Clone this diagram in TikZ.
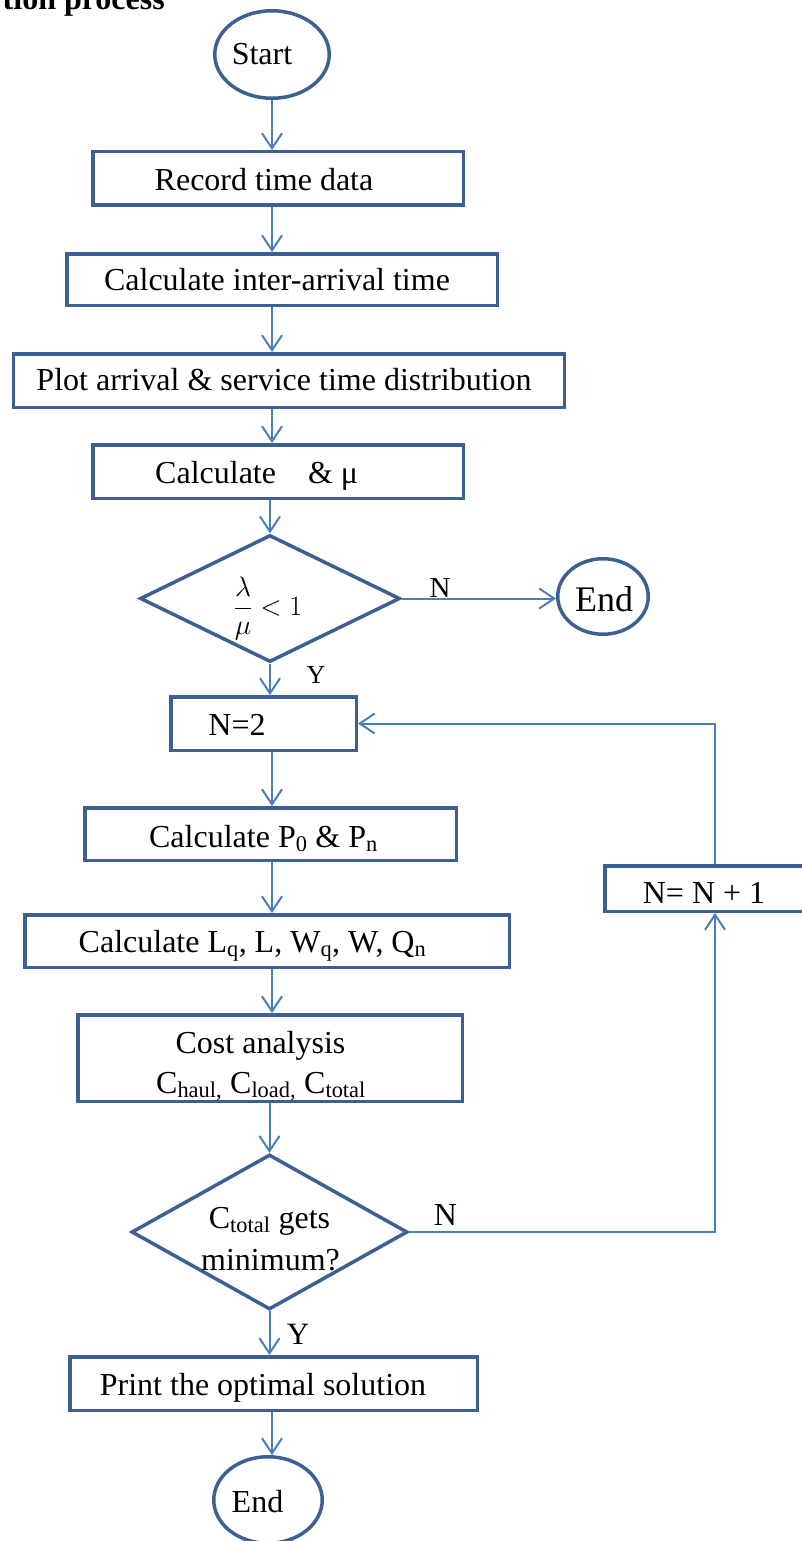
\RequirePackage{fix-cm}
\documentclass[tikz,border=0pt]{standalone}
\usepackage{fontspec}
\setmainfont{Liberation Serif}
\usetikzlibrary{shapes.geometric,arrows.meta}
\definecolor{boxblue}{RGB}{60,96,146}
\definecolor{linkblue}{RGB}{74,126,187}

\begin{document}
\begin{tikzpicture}[x=1pt,y=-1pt,
  every node/.style={inner sep=0pt, font=\fontsize{32}{38}\selectfont},
  flowbox/.style={draw=boxblue, line width=3.5pt, rectangle, fill=white},
  decision/.style={draw=boxblue, line width=3.5pt, diamond, fill=white},
  terminal/.style={draw=boxblue, line width=3.5pt, ellipse, fill=white},
  txt/.style={anchor=base},
  tag/.style={anchor=base},
  link/.style={draw=linkblue, line width=2pt, -{Straight Barb[length=15pt,width=20pt]}}
]
\useasboundingbox (0,0) rectangle (802,1541);
\clip (0,0) rectangle (802,1541);

% heading, cut by the page edge
\node[anchor=base east, font=\fontsize{32}{38}\selectfont\bfseries] (title) at (165,10) {tion process};

% terminals
\node[terminal, minimum width=114.5pt, minimum height=87.5pt] (start) at (272,54.5) {};
\node[txt] (t-start) at (262,65) {Start};

\node[terminal, minimum width=90.5pt, minimum height=75.5pt] (end1) at (603,596.5) {};
\node[txt, font=\fontsize{36}{42}\selectfont] (t-end1) at (604,611) {End};

\node[terminal, minimum width=108.5pt, minimum height=86.5pt] (end2) at (268,1500) {};
\node[txt] (t-end2) at (257.5,1512) {End};

% process boxes
\node[flowbox, minimum width=370.5pt, minimum height=53.5pt] (rec) at (278,178.5) {};
\node[txt] (t-rec) at (264,190) {Record time data};

\node[flowbox, minimum width=430.5pt, minimum height=51.5pt] (inter) at (282,279.5) {};
\node[txt] (t-inter) at (277,290) {Calculate inter-arrival time};

\node[flowbox, minimum width=551pt, minimum height=53.5pt] (plot) at (288.75,380.5) {};
\node[txt] (t-plot) at (284,390) {Plot arrival \& service time distribution};

\node[flowbox, minimum width=370.5pt, minimum height=53.5pt] (rates) at (278,471.5) {};
\node[anchor=base west] (t-rates) at (155,483) {Calculate\hspace{32pt}\& μ};

\node[flowbox, minimum width=185.5pt, minimum height=53.5pt] (n2) at (263.5,723.5) {};
\node[txt] (t-n2) at (237,735) {N=2};

\node[flowbox, minimum width=371.5pt, minimum height=52.5pt] (prob) at (270.5,834) {};
\node[txt] (t-prob) at (263.5,847) {Calculate P\textsubscript{0} \& P\textsubscript{n}};

\node[flowbox, minimum width=484.5pt, minimum height=52.5pt] (perf) at (267,941) {};
\node[txt] (t-perf) at (252.5,952) {Calculate L\textsubscript{q}, L, W\textsubscript{q}, W, Q\textsubscript{n}};

\node[flowbox, minimum width=384.5pt, minimum height=86.5pt] (cost) at (270,1058) {};
\node[txt] (t-cost1) at (260.5,1053) {Cost analysis};
\node[txt] (t-cost2) at (261,1093) {C\textsubscript{haul,} C\textsubscript{load,} C\textsubscript{total}};

\node[flowbox, minimum width=407.5pt, minimum height=53.5pt] (print) at (273.5,1383.5) {};
\node[txt] (t-print) at (263,1395) {Print the optimal solution};

\node[flowbox, minimum width=220.5pt, minimum height=45.5pt] (nn1) at (715,888.5) {};
\node[txt] (t-nn1) at (704,903) {N= N + 1};

% decisions
\node[decision, minimum width=260pt, minimum height=127pt] (d1) at (270,598.5) {};
\node[txt, font=\fontsize{28}{34}\selectfont] (t-d1) at (268,615) {$\displaystyle\frac{\lambda}{\mu}<1$};

\node[decision, minimum width=276pt, minimum height=155pt] (d2) at (269.5,1232) {};
\node[txt] (t-d2a) at (269.5,1228) {C\textsubscript{total} gets};
\node[txt] (t-d2b) at (270.5,1270) {minimum?};

% branch labels
\node[tag, font=\fontsize{29}{34}\selectfont] (n-d1) at (440,597) {N};
\node[tag, font=\fontsize{26}{31}\selectfont] (y-d1) at (316,683) {Y};
\node[tag, font=\fontsize{32}{38}\selectfont] (n-d2) at (445.5,1225) {N};
\node[tag, font=\fontsize{31}{37}\selectfont] (y-d2) at (298,1344) {Y};

% main flow
\draw[link] (start.south) -- (start.south |- rec.north);
\draw[link] (rec.south -| start) -- (inter.north -| start);
\draw[link] (inter.south -| start) -- (plot.north -| start);
\draw[link] (plot.south -| start) -- (rates.north -| start);
\draw[link] (rates.south -| d1.north) -- (d1.north);
\draw[link] (d1.east) -- (d1.east -| end1.west);
\draw[link] (d1.south) -- (d1.south |- n2.north);
\draw[link] (n2.south -| start) -- (prob.north -| start);
\draw[link] (prob.south -| start) -- (perf.north -| start);
\draw[link] (perf.south -| start) -- (cost.north -| start);
\draw[link] (cost.south -| d2.north) -- (d2.north);
\draw[link] (d2.south) -- (d2.south |- print.north);
\draw[link] (print.south -| start) -- (start |- end2.north);

% iteration loop
\draw[link] (d2.east) -- (d2.east -| nn1.south) -- (nn1.south);
\draw[link] (nn1.north) -- (nn1.north |- n2.east) -- (n2.east);
\end{tikzpicture}
\end{document}
